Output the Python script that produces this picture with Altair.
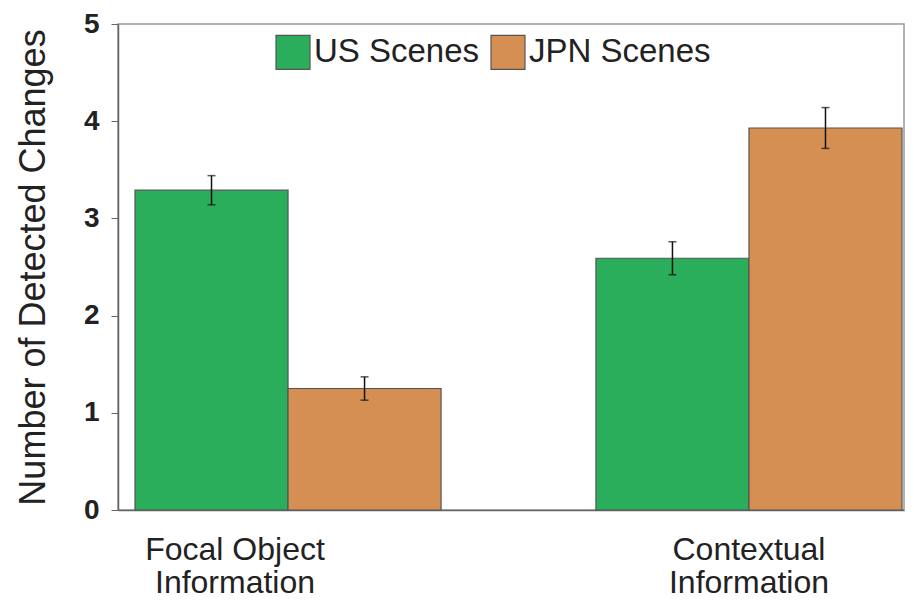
import altair as alt
import pandas as pd

categories = ["Focal Object Information", "Contextual Information"]
series = ["US Scenes", "JPN Scenes"]
us_values = [3.29, 2.59]
jpn_values = [1.25, 3.93]
us_err = [0.15, 0.17]
jpn_err = [0.12, 0.21]
colors = ["#2aae5b", "#d68f52"]

rows = []
for i, c in enumerate(categories):
    rows.append({"cat": c, "series": series[0], "value": us_values[i],
                 "lo": us_values[i] - us_err[i], "hi": us_values[i] + us_err[i]})
    rows.append({"cat": c, "series": series[1], "value": jpn_values[i],
                 "lo": jpn_values[i] - jpn_err[i], "hi": jpn_values[i] + jpn_err[i]})
df = pd.DataFrame(rows)

FONT = "Liberation Sans"

x_enc = alt.X("cat:N", sort=categories, title=None,
              scale=alt.Scale(paddingInner=0.336, paddingOuter=0.0206, align=0.895),
              axis=alt.Axis(labelExpr="split(datum.label, ' ', 2)[0] == 'Focal' ? ['Focal Object', 'Information'] : ['Contextual', 'Information']",
                            labelAngle=0, labelFontSize=32, labelFont=FONT, labelColor="#222",
                            labelPadding=24, labelLineHeight=33, ticks=False, labelLimit=0,
                            labelOffset={"condition": {"test": "datum.value == 'Focal Object Information'", "value": -53}, "value": 0},
                            domainColor="#666", domainWidth=1.5))
xoff = alt.XOffset("series:N", sort=series)
y_scale = alt.Scale(domain=[0, 5], nice=False)

bars = alt.Chart(df).mark_bar(stroke="#555", strokeWidth=1.2).encode(
    x=x_enc,
    xOffset=xoff,
    y=alt.Y("value:Q", scale=y_scale, title="Number of Detected Changes",
            axis=alt.Axis(values=[0, 1, 2, 3, 4, 5], format="d", labelFontSize=28,
                          labelFontWeight="bold", labelFont=FONT, labelColor="#222",
                          tickSize=7, tickColor="#666", domainColor="#666", domainWidth=1.5,
                          grid=False, labelPadding=12,
                          titleFontSize=36, titleFont=FONT, titleFontWeight="normal",
                          titleColor="#222", titlePadding=31)),
    color=alt.Color("series:N", sort=series,
                    scale=alt.Scale(domain=series, range=colors),
                    legend=alt.Legend(title=None, orient="none", direction="horizontal",
                                      legendX=157, legendY=10, symbolType="square",
                                      symbolSize=1156, symbolStrokeColor="#555",
                                      symbolStrokeWidth=1.2, symbolOpacity=1,
                                      labelFontSize=33, labelFont=FONT, labelColor="#222",
                                      labelLimit=0, labelOffset=3, columnPadding=8)),
)

rules = alt.Chart(df).mark_rule(color="#111", strokeWidth=1.5).encode(
    x=alt.X("cat:N", sort=categories), xOffset=xoff,
    y=alt.Y("lo:Q", scale=y_scale), y2="hi:Q",
)
caps_hi = alt.Chart(df).mark_tick(color="#111", thickness=1.5, size=8, orient="horizontal").encode(
    x=alt.X("cat:N", sort=categories), xOffset=xoff,
    y=alt.Y("hi:Q", scale=y_scale),
)
caps_lo = alt.Chart(df).mark_tick(color="#111", thickness=1.5, size=8, orient="horizontal").encode(
    x=alt.X("cat:N", sort=categories), xOffset=xoff,
    y=alt.Y("lo:Q", scale=y_scale),
)

chart = alt.layer(bars, rules, caps_hi, caps_lo).properties(
    width=786, height=486, autosize="none",
    padding={"left": 110, "top": 16, "right": 2, "bottom": 92},
    background="white",
).configure_view(stroke="#999", strokeWidth=1.5)

chart.save("out.html", embed_options={"renderer": "svg", "actions": False})
